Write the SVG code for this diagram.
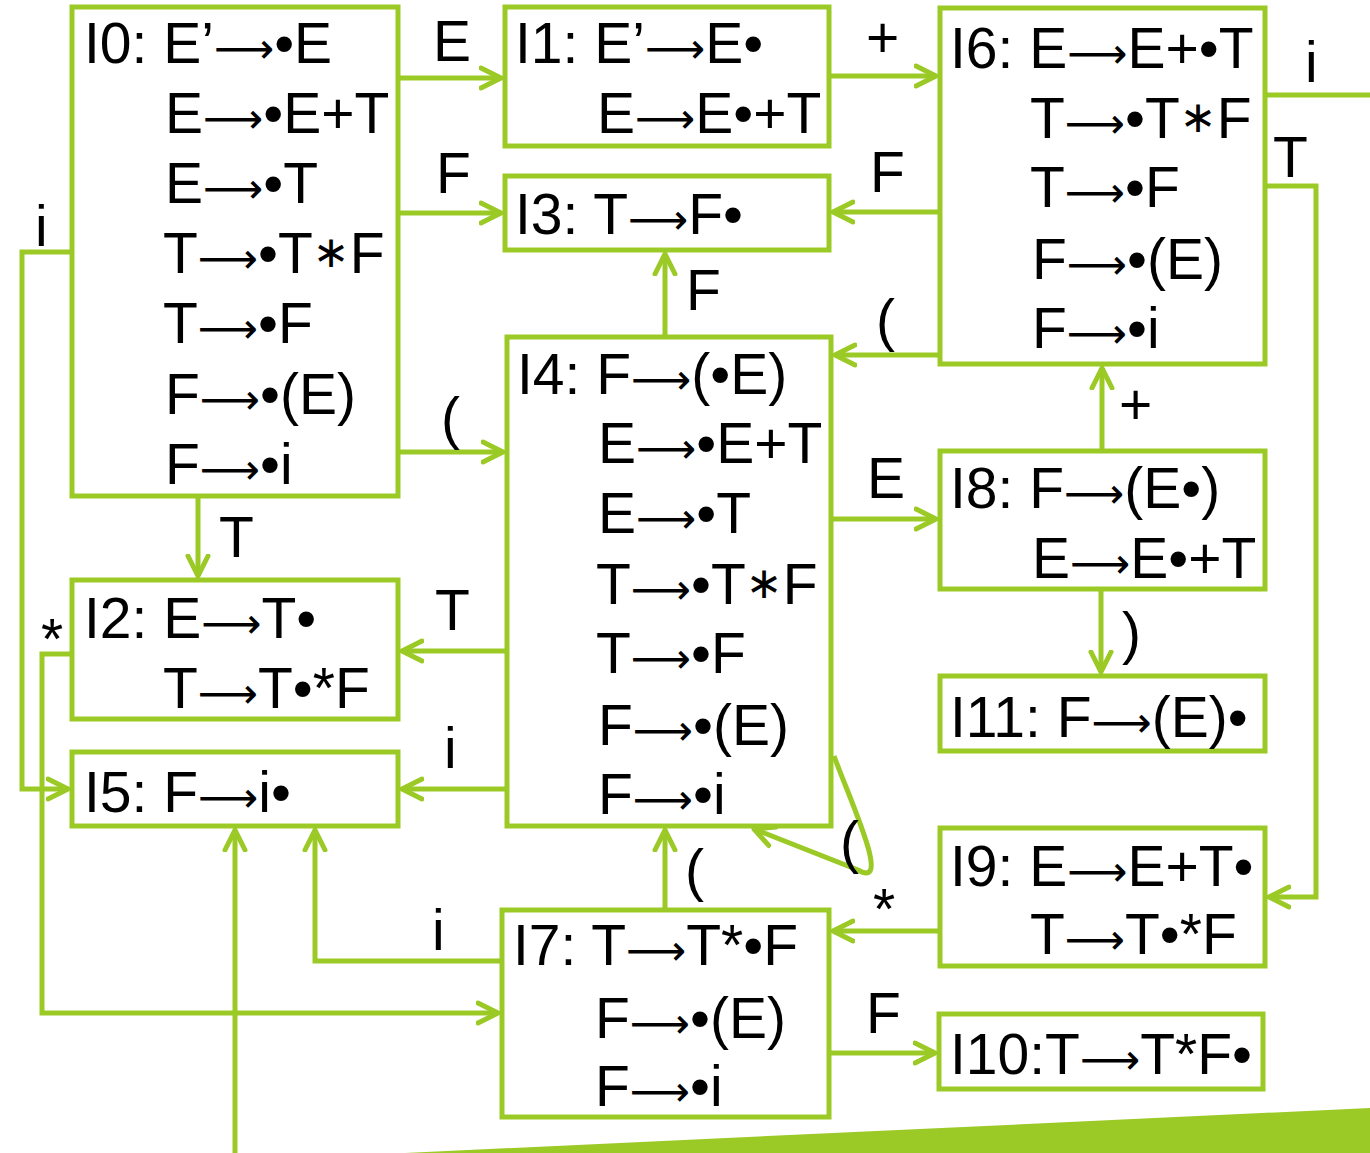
<svg xmlns="http://www.w3.org/2000/svg" width="1370" height="1153" viewBox="0 0 1370 1153">
<style>
.box{fill:#fff;stroke:#9BC925;stroke-width:5}
.t{font-family:"Liberation Sans",Arial,sans-serif;font-size:57px;fill:#000}
.ar{font-family:"DejaVu Sans",sans-serif;font-size:42px}
.st{font-family:"DejaVu Sans",sans-serif;font-size:44px}
.c{fill:none;stroke:#9BC925;stroke-width:5}
</style>
<defs>
<marker id="a" viewBox="0 0 26 26" refX="22" refY="13" markerWidth="26" markerHeight="26" orient="auto" markerUnits="userSpaceOnUse">
<path d="M2,3 L22,13 L2,23" fill="none" stroke="#9BC925" stroke-width="5" stroke-linecap="round" stroke-linejoin="round"/>
</marker>
</defs>
<rect width="1370" height="1153" fill="#fff"/>
<polygon points="405,1153 1370,1108 1370,1153" fill="#9BC925"/>
<g id="connectors">
<path class="c" d="M398,78 H501" marker-end="url(#a)"/>
<path class="c" d="M398,213 H501" marker-end="url(#a)"/>
<path class="c" d="M398,452 H503" marker-end="url(#a)"/>
<path class="c" d="M198,496 V576" marker-end="url(#a)"/>
<path class="c" d="M72,252 H22 V789 H68" marker-end="url(#a)"/>
<path class="c" d="M829,76 H936" marker-end="url(#a)"/>
<path class="c" d="M938,212 H833" marker-end="url(#a)"/>
<path class="c" d="M938,355 H835" marker-end="url(#a)"/>
<path class="c" d="M1265,95 H1370"/>
<path class="c" d="M1265,186 H1316 V897 H1269" marker-end="url(#a)"/>
<path class="c" d="M665,337 V254" marker-end="url(#a)"/>
<path class="c" d="M831,519 H936" marker-end="url(#a)"/>
<path class="c" d="M1102,451 V368" marker-end="url(#a)"/>
<path class="c" d="M1101,589 V672" marker-end="url(#a)"/>
<path class="c" d="M507,651 H402" marker-end="url(#a)"/>
<path class="c" d="M507,789 H402" marker-end="url(#a)"/>
<path class="c" d="M834,756 C852,805 892,890 858,870 L754,829" marker-end="url(#a)"/>
<path class="c" d="M665,910 V830" marker-end="url(#a)"/>
<path class="c" d="M938,931 H833" marker-end="url(#a)"/>
<path class="c" d="M829,1053 H935" marker-end="url(#a)"/>
<path class="c" d="M502,961 H315 V830" marker-end="url(#a)"/>
<path class="c" d="M72,654 H42 V1013 H498" marker-end="url(#a)"/>
<path class="c" d="M235,1153 V830" marker-end="url(#a)"/>
</g>
<g id="labels" class="t">
<text x="433" y="61">E</text>
<text x="436" y="193">F</text>
<text x="866" y="57">+</text>
<text x="870" y="192">F</text>
<text x="686" y="310">F</text>
<text x="441" y="438">(</text>
<text x="876" y="340">(</text>
<text x="1305" y="82">i</text>
<text x="1273" y="177">T</text>
<text x="867" y="498">E</text>
<text x="1119" y="424">+</text>
<text x="1122" y="653">)</text>
<text x="219" y="557">T</text>
<text x="435" y="630">T</text>
<text x="444" y="768">i</text>
<text x="35" y="246">i</text>
<text x="41" y="659">*</text>
<text x="840" y="862">(</text>
<text x="685" y="890">(</text>
<text x="873" y="929">*</text>
<text x="432" y="950">i</text>
<text x="866" y="1033">F</text>
</g>
<g id="I0">
<rect class="box" x="72" y="7" width="326" height="489"/>
<text class="t" x="84" y="63">I0: E’<tspan class="ar">⟶</tspan>•E</text>
<text class="t" x="165" y="133">E<tspan class="ar">⟶</tspan>•E+T</text>
<text class="t" x="165" y="203">E<tspan class="ar">⟶</tspan>•T</text>
<text class="t" x="163" y="273">T<tspan class="ar">⟶</tspan>•T<tspan class="st" dy="-6">∗</tspan><tspan dy="6">F</tspan></text>
<text class="t" x="163" y="343">T<tspan class="ar">⟶</tspan>•F</text>
<text class="t" x="165" y="414">F<tspan class="ar">⟶</tspan>•(E)</text>
<text class="t" x="165" y="484">F<tspan class="ar">⟶</tspan>•i</text>
</g>
<g id="I1">
<rect class="box" x="505" y="7" width="324" height="139"/>
<text class="t" x="515" y="63">I1: E’<tspan class="ar">⟶</tspan>E•</text>
<text class="t" x="597" y="133">E<tspan class="ar">⟶</tspan>E•+T</text>
</g>
<g id="I3">
<rect class="box" x="505" y="176" width="324" height="74"/>
<text class="t" x="515" y="234">I3: T<tspan class="ar">⟶</tspan>F•</text>
</g>
<g id="I6">
<rect class="box" x="940" y="8" width="325" height="356"/>
<text class="t" x="950" y="68">I6: E<tspan class="ar">⟶</tspan>E+•T</text>
<text class="t" x="1030" y="138">T<tspan class="ar">⟶</tspan>•T<tspan class="st" dy="-6">∗</tspan><tspan dy="6">F</tspan></text>
<text class="t" x="1030" y="207">T<tspan class="ar">⟶</tspan>•F</text>
<text class="t" x="1032" y="279">F<tspan class="ar">⟶</tspan>•(E)</text>
<text class="t" x="1032" y="348">F<tspan class="ar">⟶</tspan>•i</text>
</g>
<g id="I4">
<rect class="box" x="507" y="337" width="324" height="489"/>
<text class="t" x="517" y="394">I4: F<tspan class="ar">⟶</tspan>(•E)</text>
<text class="t" x="598" y="463">E<tspan class="ar">⟶</tspan>•E+T</text>
<text class="t" x="598" y="533">E<tspan class="ar">⟶</tspan>•T</text>
<text class="t" x="596" y="604">T<tspan class="ar">⟶</tspan>•T<tspan class="st" dy="-6">∗</tspan><tspan dy="6">F</tspan></text>
<text class="t" x="596" y="673">T<tspan class="ar">⟶</tspan>•F</text>
<text class="t" x="598" y="745">F<tspan class="ar">⟶</tspan>•(E)</text>
<text class="t" x="598" y="814">F<tspan class="ar">⟶</tspan>•i</text>
</g>
<g id="I8">
<rect class="box" x="940" y="451" width="325" height="138"/>
<text class="t" x="950" y="508">I8: F<tspan class="ar">⟶</tspan>(E•)</text>
<text class="t" x="1032" y="578">E<tspan class="ar">⟶</tspan>E•+T</text>
</g>
<g id="I11">
<rect class="box" x="940" y="676" width="325" height="75"/>
<text class="t" x="950" y="737">I11: F<tspan class="ar">⟶</tspan>(E)•</text>
</g>
<g id="I2">
<rect class="box" x="72" y="580" width="326" height="139"/>
<text class="t" x="84" y="638">I2: E<tspan class="ar">⟶</tspan>T•</text>
<text class="t" x="163" y="708">T<tspan class="ar">⟶</tspan>T•*F</text>
</g>
<g id="I5">
<rect class="box" x="72" y="752" width="326" height="74"/>
<text class="t" x="84" y="812">I5: F<tspan class="ar">⟶</tspan>i•</text>
</g>
<g id="I7">
<rect class="box" x="502" y="910" width="327" height="207"/>
<text class="t" x="513" y="965">I7: T<tspan class="ar">⟶</tspan>T*•F</text>
<text class="t" x="595" y="1038">F<tspan class="ar">⟶</tspan>•(E)</text>
<text class="t" x="595" y="1106">F<tspan class="ar">⟶</tspan>•i</text>
</g>
<g id="I9">
<rect class="box" x="940" y="828" width="325" height="138"/>
<text class="t" x="950" y="886">I9: E<tspan class="ar">⟶</tspan>E+T•</text>
<text class="t" x="1030" y="954">T<tspan class="ar">⟶</tspan>T•*F</text>
</g>
<g id="I10">
<rect class="box" x="939" y="1014" width="324" height="75"/>
<text class="t" x="950" y="1074">I10:T<tspan class="ar">⟶</tspan>T*F•</text>
</g>
</svg>
